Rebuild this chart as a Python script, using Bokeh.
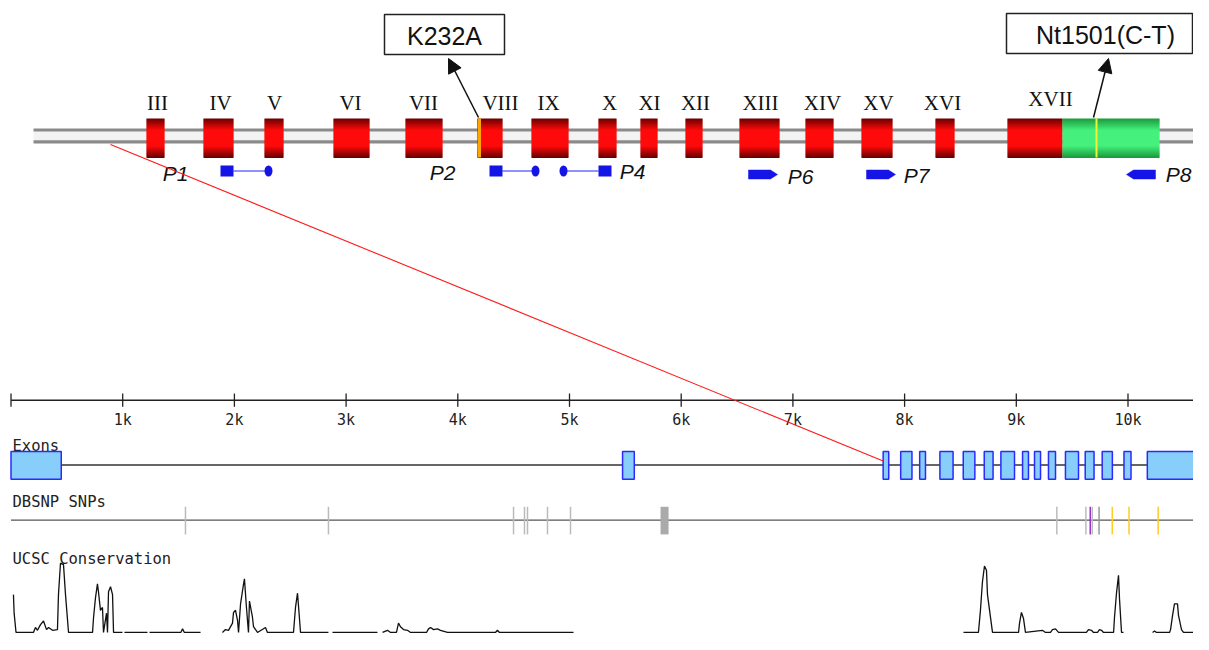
from bokeh.plotting import figure
from bokeh.models import Range1d, Arrow, NormalHead, ColumnDataSource
from bokeh.core.properties import value
from bokeh.embed import file_html
from bokeh.resources import INLINE

nan = float("nan")

# ---------------- data: gene schematic (schematic units) ----------------
sch_exon_names = ["III", "IV", "V", "VI", "VII", "VIII", "IX", "X", "XI", "XII",
                  "XIII", "XIV", "XV", "XVI", "XVII"]
sch_exon_start = [146, 203, 264, 333, 405, 477, 531, 598, 640, 685, 739, 805, 861, 935, 1007]
sch_exon_end = [164, 233, 283, 369, 442, 502, 568, 616, 657, 702, 779, 833, 892, 954, 1062]
sch_label_x = [157, 220, 274, 350, 423, 500, 548, 609, 649, 695, 760, 822, 878, 942, 1050]
sch_utr_start = [1062]
sch_utr_end = [1159]
sch_mut_x = [479, 1096]
sch_mut_color = ["#ffa500", "#f2f230"]
sch_line_start = 33
sch_line_end = 1209

callout_text = ["K232A", "Nt1501(C-T)"]
callout_left = [384, 1006]
callout_right = [504, 1192]
callout_text_x = [444, 1105]
callout_arrow_from = [478, 1093]
callout_arrow_to = [448, 1108]

pair_names = ["P1", "P2", "P4"]
pair_sq_start = [220, 489, 598]
pair_sq_end = [233, 502, 611]
pair_round_x = [268, 535, 563]
pair_label_x = [175, 442, 632]
pair_label_y = [173, 172, 171]

single_names = ["P6", "P7", "P8"]
single_start = [748, 866, 1126]
single_end = [777, 895, 1155]
single_dir = [1, 1, -1]
single_label_x = [800, 916, 1178]
single_label_y = [176, 175, 174]

# ---------------- data: genomic tracks (bp) ----------------
tick_bp = [1000, 2000, 3000, 4000, 5000, 6000, 7000, 8000, 9000, 10000]
tick_labels = ["1k", "2k", "3k", "4k", "5k", "6k", "7k", "8k", "9k", "10k"]
region_end_bp = 10730

exon_start = [0, 5475, 7808, 7965, 8135, 8316, 8525, 8713, 8862, 9056, 9163, 9288,
              9440, 9617, 9769, 9964, 10173]
exon_end = [450, 5580, 7858, 8066, 8187, 8434, 8629, 8792, 8984, 9109, 9217, 9351,
            9557, 9696, 9860, 10027, 10600]

snp_bp = [1562, 2842, 4499, 4597, 4624, 4803, 5009, 9363, 9623, 9662, 9680, 9741,
          9859, 10009, 10270]
snp_color = ["#bbbbbb", "#bbbbbb", "#bbbbbb", "#bbbbbb", "#bbbbbb", "#bbbbbb", "#bbbbbb",
             "#bbbbbb", "#bbbbbb", "#9933cc", "#bbbbbb", "#999999",
             "#ffcc22", "#ffcc22", "#ffcc22"]
snp_block_start = [5815]
snp_block_end = [5887]

cons_bp = [22, 28, 45, 201, 219, 237, 264, 291, 318, 336, 372, 416, 425, 443, 470, 488,
           515, 730, 739, 756, 774, 783, 801, 819, 828, 855, 864, 873, 891, 909, 918, 998,
           nan, 1016, 1222,
           nan, 1240, 1520, 1536, 1552, 1697,
           nan, 1893, 1920, 1947, 1983, 1992, 2010, 2028, 2037, 2055, 2081, 2090, 2108,
           2126, 2135, 2162, 2171, 2207, 2278, 2296, 2529, 2547, 2565, 2574, 2592, 2842,
           nan, 2878, 3281,
           nan, 3326, 3371, 3398, 3451, 3469, 3487, 3514, 3550, 3577, 3720, 3738, 3756,
           3783, 3818, 3845, 3908, 4337, 4355, 4373, 5036,
           nan, 8527, 8661, 8679, 8697, 8715, 8733, 8742, 8769, 8787, 9020, 9029, 9046,
           9064, 9082, 9234, 9261, 9306, 9324, 9351, 9378, 9628, 9646, 9673, 9691, 9727,
           9745, 9763, 9781, 9871, 9879, 9897, 9915, 9924, 9942, 9960,
           nan, 10220, 10238, 10255, 10372, 10381, 10399, 10416, 10443, 10452, 10479,
           10497, 10595]
cons_score = [0.53, 0.27, 0, 0, 0.07, 0.03, 0.11, 0.16, 0.04, 0.07, 0.03, 0.04, 0.53, 0.97,
              0.95, 0.53, 0, 0, 0.21, 0.48, 0.68, 0.57, 0.31, 0.35, 0, 0.27, 0, 0.57,
              0.64, 0.53, 0, 0,
              nan, 0, 0,
              nan, 0, 0, 0.05, 0, 0,
              nan, 0, 0.04, 0.03, 0.13, 0.28, 0.31, 0.17, 0, 0.40, 0.67, 0.75, 0.35,
              0, 0.44, 0.21, 0.08, 0, 0.07, 0, 0, 0.35, 0.55, 0.37, 0, 0,
              nan, 0, 0,
              nan, 0, 0.03, 0, 0, 0.13, 0.08, 0.04, 0.03, 0, 0, 0.05, 0.07,
              0.04, 0.05, 0.03, 0, 0, 0.03, 0, 0,
              nan, 0, 0, 0.31, 0.71, 0.93, 0.87, 0.53, 0.21, 0, 0, 0.13, 0.28,
              0.20, 0, 0.03, 0, 0, 0.04, 0.05, 0, 0, 0.04, 0.03, 0, 0,
              0.04, 0.03, 0, 0, 0.21, 0.55, 0.80, 0.47, 0, 0,
              nan, 0, 0.02, 0, 0, 0.04, 0.24, 0.40, 0.40, 0.24, 0.04,
              0, 0]

# ---------------- layout ----------------
W, H = 1193, 634
PX0 = 10.5      # screen position of 0 bp
PXB = 0.1117    # pixels per bp


def bp_at(px):
    return (px - PX0) / PXB


def ty(y):
    # vertical placement of the genome-browser tracks (slightly compressed to fit)
    return y - 4 - (y - 397) * 0.048


p = figure(width=W, height=H, x_range=Range1d(bp_at(0), bp_at(W)),
           y_range=Range1d(H, 0), output_backend="svg", toolbar_location=None,
           min_border=0, x_axis_location=None, y_axis_location=None)
p.extra_x_ranges = {"sch": Range1d(0, W)}
p.xgrid.visible = False
p.ygrid.visible = False
p.outline_line_color = None
p.background_fill_color = "white"

S = "sch"
TUBE_TOP, TUBE_BOT = 129.5, 141.3
EX_TOP, EX_BOT = 118, 157

# tube (double gray line)
p.quad(left=[sch_line_start], right=[sch_line_end], top=[TUBE_TOP + 1.5], bottom=[TUBE_BOT - 1.5],
       fill_color="#f3f3f3", line_color=None, x_range_name=S)
p.segment(x0=[sch_line_start] * 2, x1=[sch_line_end] * 2, y0=[TUBE_TOP, TUBE_BOT],
          y1=[TUBE_TOP, TUBE_BOT], line_color="#8a8a8a", line_width=3.2, x_range_name=S)


def mix(c0, c1, f):
    a = [int(c0[i:i + 2], 16) for i in (1, 3, 5)]
    b = [int(c1[i:i + 2], 16) for i in (1, 3, 5)]
    return "#%02x%02x%02x" % tuple(int(round(a[i] + (b[i] - a[i]) * f)) for i in range(3))


def strips(starts, ends, dark, bright):
    L, R, T, B, C = [], [], [], [], []
    n = EX_BOT - EX_TOP
    for k in range(n):
        tc = (k + 0.5) / n
        d = min(tc, 1 - tc) / 0.5
        f = min(1.0, d / 0.6)
        col = mix(dark, bright, f)
        for s, e in zip(starts, ends):
            L.append(s); R.append(e); T.append(EX_TOP + k); B.append(EX_TOP + k + 1.6); C.append(col)
    return ColumnDataSource(dict(left=L, right=R, top=T, bottom=B, color=C))


p.quad(left="left", right="right", top="top", bottom="bottom", fill_color="color",
       line_color=None, source=strips(sch_exon_start, sch_exon_end, "#6a0000", "#ff0a0a"),
       x_range_name=S)
p.quad(left="left", right="right", top="top", bottom="bottom", fill_color="color",
       line_color=None, source=strips(sch_utr_start, sch_utr_end, "#189a3c", "#46f07c"),
       x_range_name=S)
p.segment(x0=sch_mut_x, x1=sch_mut_x, y0=[EX_TOP] * 2, y1=[EX_BOT] * 2,
          line_color=sch_mut_color, line_width=[3, 2], x_range_name=S)

label_y = [102] * (len(sch_exon_names) - 1) + [98]
p.text(x=sch_label_x, y=label_y, text=sch_exon_names, text_font=value("Liberation Serif"),
       text_font_size=value("21px"), text_align="center", text_baseline="middle",
       text_color="#111111", x_range_name=S)

# callouts
cx = [(a + b) / 2 for a, b in zip(callout_left, callout_right)]
cw = [b - a for a, b in zip(callout_left, callout_right)]
p.rect(x=cx, y=[34, 33], width=cw, height=[40, 40], fill_color="white",
       line_color="#222222", line_width=1.5, x_range_name=S)
p.text(x=callout_text_x, y=[35, 34], text=callout_text, text_font=value("Liberation Sans"),
       text_font_size=value("25px"), text_align="center", text_baseline="middle",
       text_color="#111111", x_range_name=S)
for xf, xt in zip(callout_arrow_from, callout_arrow_to):
    p.add_layout(Arrow(end=NormalHead(size=14, fill_color="#111111", line_color="#111111"),
                       x_start=xf, y_start=117, x_end=xt, y_end=58, line_width=1.5,
                       line_color="#111111", x_range_name=S))

# primers
PRIM = "#1414e6"
pair_line_l = [pair_sq_end[0], pair_sq_end[1], pair_round_x[2]]
pair_line_r = [pair_round_x[0], pair_round_x[1], pair_sq_start[2]]
p.segment(x0=pair_line_l, x1=pair_line_r, y0=[170.5] * 3, y1=[170.5] * 3,
          line_color="#6b6bff", line_width=1.6, x_range_name=S)
p.quad(left=pair_sq_start, right=pair_sq_end, top=[165] * 3, bottom=[176] * 3,
       fill_color=PRIM, line_color=None, x_range_name=S)
p.ellipse(x=pair_round_x, y=[170.5] * 3, width=8, height=11, width_units="screen",
          height_units="screen", fill_color=PRIM, line_color=None, x_range_name=S)

xs, ys = [], []
for s, e, d in zip(single_start, single_end, single_dir):
    yc, h, tip = 174, 4.5, 7
    if d > 0:
        xs.append([s, e - tip, e, e - tip, s])
    else:
        xs.append([e, s + tip, s, s + tip, e])
    ys.append([yc - h, yc - h, yc, yc + h, yc + h])
p.patches(xs=xs, ys=ys, fill_color=PRIM, line_color=PRIM, line_width=0.5, x_range_name=S)

p.text(x=pair_label_x + single_label_x, y=pair_label_y + single_label_y,
       text=pair_names + single_names, text_font=value("Liberation Sans"),
       text_font_style="italic", text_font_size=value("21px"), text_align="center",
       text_baseline="middle", text_color="#111111", x_range_name=S)

# ---------------- genomic tracks ----------------
MONO = value("DejaVu Sans Mono")
RULER_Y = ty(404)
p.segment(x0=[0], x1=[region_end_bp], y0=[RULER_Y], y1=[RULER_Y], line_color="#222222",
          line_width=1.5)
p.segment(x0=[0] + tick_bp, x1=[0] + tick_bp, y0=[ty(397)] * (len(tick_bp) + 1),
          y1=[ty(411)] * (len(tick_bp) + 1), line_color="#222222", line_width=1.3)
p.text(x=tick_bp, y=[ty(425)] * len(tick_bp), text=tick_labels, text_font=MONO,
       text_font_size=value("15px"), text_align="center", text_baseline="alphabetic",
       text_color="#222222")

p.text(x=[bp_at(12)] * 3, y=[ty(452), ty(511), ty(571)],
       text=["Exons", "DBSNP SNPs", "UCSC Conservation"],
       text_font=MONO, text_font_size=value("15.5px"), text_align="left",
       text_baseline="alphabetic", text_color="#222222")

EXON_Y = ty(472)
p.segment(x0=[0], x1=[region_end_bp], y0=[EXON_Y], y1=[EXON_Y], line_color="#333333",
          line_width=1.5)
p.quad(left=exon_start, right=exon_end, top=[ty(458)] * len(exon_start),
       bottom=[ty(487)] * len(exon_start), fill_color="#87cefa", line_color="#2a2aff",
       line_width=1.5)

SNP_Y = ty(530)
p.segment(x0=[0], x1=[region_end_bp], y0=[SNP_Y], y1=[SNP_Y], line_color="#555555",
          line_width=1.2)
p.segment(x0=snp_bp, x1=snp_bp, y0=[ty(516)] * len(snp_bp), y1=[ty(545)] * len(snp_bp),
          line_color=snp_color, line_width=1.5)
p.quad(left=snp_block_start, right=snp_block_end, top=[ty(516)], bottom=[ty(545)],
       fill_color="#aaaaaa", line_color=None)

CONS_BASE = ty(648)
CONS_H = ty(648) - ty(573)
cons_y = [CONS_BASE - v * CONS_H if v == v else nan for v in cons_score]
p.line(x=cons_bp, y=cons_y, line_color="#111111", line_width=1.3)

# connector from schematic to the genomic exon cluster
p.segment(x0=[bp_at(110)], y0=[144], x1=[exon_start[2]], y1=[ty(468)], line_color="#ff1a1a",
          line_width=1.1)

open("out.html", "w").write(file_html(p, INLINE))
